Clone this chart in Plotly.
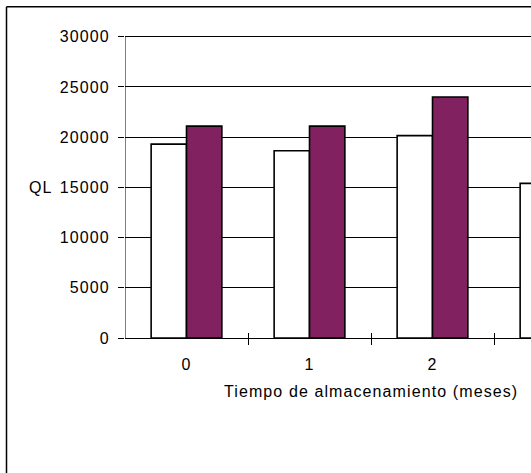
import plotly.graph_objects as go

categories = ["0", "1", "2", "3"]
serie_blanca = [19300, 18650, 20150, 15400]
serie_morada = [21100, 21100, 24000, None]
y_ticks = [0, 5000, 10000, 15000, 20000, 25000, 30000]
x_title = "Tiempo de almacenamiento (meses)"
y_title = "QL"

SP = "letter-spacing:1.1px"

def sp(t):
    return f'<span style="{SP}">{t}</span>'

xpos = list(range(len(categories)))

PLOT_H = 303
fig = go.Figure()
fig.add_trace(go.Bar(x=xpos, y=serie_blanca, marker=dict(color="white", line=dict(color="black", width=1.6)),
                     showlegend=False))
fig.add_trace(go.Bar(x=xpos, y=serie_morada, marker=dict(color="#822160", line=dict(color="black", width=1.6)),
                     showlegend=False))

font = dict(family="Liberation Sans, Arial, sans-serif", size=16, color="black")

fig.update_layout(
    width=531, height=473,
    margin=dict(l=125, r=0, t=35, b=135),
    paper_bgcolor="white", plot_bgcolor="white",
    barmode="group", bargap=0.425, bargroupgap=0,
    font=font,
    xaxis=dict(
        type="linear", range=[-0.5, -0.5 + 406 / 123], fixedrange=True,
        tickmode="array", tickvals=xpos[:3], ticktext=[sp(c) for c in categories[:3]],
        ticks="", showgrid=False, zeroline=False,
        showline=False,
        minor=dict(tickvals=[0.5, 1.5, 2.5], ticks="outside", ticklen=6, tickcolor="black", tickwidth=1),
        ticklabelstandoff=15,
        tickfont=font,
    ),
    xaxis2=dict(
        overlaying="x", anchor="y", side="bottom", matches="x",
        tickmode="array", tickvals=[0.5, 1.5, 2.5], ticks="inside", ticklen=5,
        tickcolor="black", tickwidth=1, showticklabels=False, showgrid=False,
        zeroline=False, showline=False,
    ),
    yaxis=dict(
        range=[0, 30000 * PLOT_H / 301.3], tickmode="array", tickvals=y_ticks,
        ticktext=[sp(str(v)) for v in y_ticks],
        ticks="outside", ticklen=6, tickcolor="black", tickwidth=1,
        showgrid=True, gridcolor="black", gridwidth=1,
        showline=False,
        zeroline=True, zerolinecolor="black", zerolinewidth=1,
        ticklabelstandoff=5, tickfont=font, fixedrange=True,
    ),
    yaxis2=dict(
        overlaying="y", anchor="x", matches="y", showgrid=False, showticklabels=False,
        ticks="", zeroline=False, showline=False,
    ),
)

# invisible trace so the secondary axes are active
fig.add_trace(go.Scatter(x=[0], y=[0], xaxis="x2", mode="markers",
                         marker=dict(opacity=0), showlegend=False, hoverinfo="skip"))

# y axis line from 0 to 30000 (drawn against the y data scale)
fig.add_trace(go.Scatter(x=[-0.5, -0.5], y=[y_ticks[0], y_ticks[-1]], mode="lines",
                         line=dict(color="black", width=1), showlegend=False, hoverinfo="skip",
                         cliponaxis=False))

fig.add_annotation(text=sp(x_title), xref="paper", yref="paper",
                   x=(371 - 125) / 406, y=(338 - 391) / PLOT_H,
                   xanchor="center", yanchor="middle", showarrow=False, font=font)
fig.add_annotation(text=sp(y_title), xref="paper", yref="paper",
                   x=(27 - 125) / 406, y=(338 - 187) / PLOT_H,
                   xanchor="left", yanchor="middle", showarrow=False, font=font)

# outer chart frame
frame_left = (6.5 - 125) / 406
frame_top = (338 - 6.7) / PLOT_H
fig.add_shape(type="line", xref="paper", yref="paper", x0=frame_left, x1=1.05,
              y0=frame_top, y1=frame_top, line=dict(color="black", width=1.5))
fig.add_shape(type="line", xref="paper", yref="paper", x0=frame_left, x1=frame_left,
              y0=frame_top, y1=-0.5, line=dict(color="black", width=1.5))

fig.write_html("out.html", config={"displayModeBar": False},
               post_script="document.body.style.margin='0';document.body.style.overflow='hidden';")
